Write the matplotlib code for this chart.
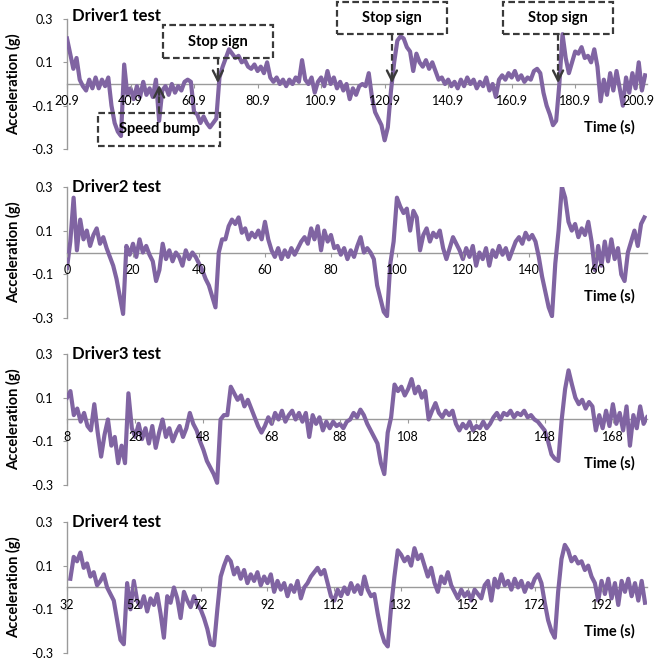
import numpy as np
import matplotlib.pyplot as plt
from matplotlib.patches import Rectangle

plt.rcParams['font.family'] = ['Lato', 'DejaVu Sans']

# acceleration (g), one reading per second
acc_driver1 = [
    0.21, 0.14, 0.07, 0.12, 0.02, -0.01, -0.03, 0.02, -0.02, 0.03,
    -0.02, 0.02, -0.01, 0.03, -0.10, -0.18, -0.22, -0.24, 0.09, -0.05,
    -0.02, -0.07, -0.01, -0.06, 0.01, -0.05, -0.02, -0.06, 0.02, -0.17,
    -0.03, -0.01, -0.05, 0.00, -0.04, -0.01, -0.03, 0.01, 0.02, 0.01,
    -0.13, -0.14, -0.18, -0.15, -0.18, -0.20, -0.18, -0.16, 0.03, 0.08,
    0.12, 0.16, 0.14, 0.12, 0.13, 0.10, 0.11, 0.08, 0.07, 0.09,
    0.06, 0.08, 0.05, 0.10, 0.03, 0.01, 0.03, 0.00, 0.02, -0.01,
    0.02, 0.00, 0.03, 0.01, 0.11, 0.02, 0.00, 0.03, -0.04, 0.01,
    0.03, -0.01, 0.06, 0.00, 0.03, -0.02, 0.01, -0.03, 0.00, -0.07,
    -0.02, -0.05, -0.01, 0.00, -0.01, 0.05, -0.06, -0.13, -0.16, -0.19,
    -0.26, -0.20, -0.03, 0.10, 0.20, 0.22, 0.21, 0.17, 0.15, 0.06,
    0.14, 0.10, 0.08, 0.11, 0.07, 0.10, 0.06, 0.02, 0.03, 0.00,
    0.02, -0.01, 0.01, -0.02, 0.02, -0.01, 0.03, 0.00, 0.02, -0.02,
    0.01, -0.01, 0.03, -0.03, 0.00, -0.06, 0.02, 0.04, 0.02, 0.05,
    0.03, 0.06, 0.02, 0.04, 0.01, 0.03, 0.02, 0.06, 0.07, 0.05,
    -0.04, -0.10, -0.14, -0.19, -0.17, 0.00, 0.23, 0.12, 0.05, 0.10,
    0.15, 0.14, 0.17, 0.12, 0.13, 0.10, 0.16, 0.08, -0.08, 0.02,
    -0.05, 0.05, -0.03, 0.06, -0.02, -0.10, 0.03, -0.04, 0.05, -0.02,
    0.10, -0.03, 0.04,
]
acc_driver2 = [
    -0.07, 0.05, 0.25, 0.01, 0.15, 0.06, 0.10, 0.03, 0.08, 0.11,
    0.04, 0.07, 0.02, -0.02, -0.06, -0.12, -0.20, -0.28, 0.03, -0.01,
    0.04, -0.02, 0.06, 0.00, 0.03, -0.01, -0.04, -0.13, -0.08, 0.04,
    -0.03, 0.01, -0.04, 0.00, -0.02, -0.06, 0.01, -0.03, 0.00, -0.02,
    -0.05, -0.08, -0.12, -0.15, -0.20, -0.25, 0.00, 0.06, 0.06, 0.12,
    0.15, 0.13, 0.16, 0.09, 0.11, 0.06, 0.09, 0.07, 0.10, 0.06,
    0.14, 0.06, 0.01, -0.02, 0.02, -0.03, 0.01, -0.02, 0.02, -0.01,
    0.02, 0.05, 0.07, 0.04, 0.11, 0.06, 0.12, 0.01, 0.10, 0.05,
    0.08, 0.02, 0.03, -0.01, 0.02, -0.03, 0.01, -0.02, 0.03, 0.07,
    0.00, 0.02, 0.00, -0.03, -0.15, -0.21, -0.27, -0.29, -0.05, 0.05,
    0.25, 0.21, 0.18, 0.20, 0.10, 0.19, 0.16, 0.01, 0.08, 0.11,
    0.05, 0.09, 0.07, 0.10, 0.02, -0.03, 0.02, 0.07, 0.04, 0.01,
    -0.03, 0.02, -0.02, 0.03, -0.06, 0.00, -0.03, 0.02, -0.06, 0.01,
    -0.02, 0.03, -0.01, 0.02, -0.03, 0.01, 0.05, 0.07, 0.04, 0.09,
    0.06, 0.08, 0.05, -0.02, -0.11, -0.18, -0.25, -0.29, -0.05, 0.10,
    0.30, 0.25, 0.14, 0.10, 0.13, 0.07, 0.11, 0.08, 0.14, 0.05,
    -0.08, 0.03, -0.06, 0.05, -0.04, 0.06, -0.03, 0.02, -0.10, -0.13,
    0.00, 0.05, 0.10, 0.03, 0.13, 0.16,
]
acc_driver3 = [
    0.10, 0.13, 0.02, 0.05, -0.01, 0.03, -0.03, -0.05, 0.07, -0.06,
    -0.17, -0.07, 0.00, -0.12, -0.08, -0.20, -0.12, -0.20, 0.12, -0.04,
    -0.08, -0.02, -0.09, -0.04, -0.11, -0.03, -0.13, -0.06, 0.00, -0.08,
    -0.04, -0.10, -0.06, -0.03, -0.08, -0.04, 0.03, -0.02, -0.05, -0.10,
    -0.14, -0.19, -0.22, -0.25, -0.29, 0.00, 0.02, 0.02, 0.15, 0.12,
    0.09, 0.11, 0.06, 0.09, 0.05, 0.01, -0.03, -0.06, -0.03, 0.01,
    -0.02, 0.03, 0.00, 0.04, -0.01, 0.02, 0.04, 0.00, 0.03, -0.01,
    0.03, -0.08, 0.02, -0.02, 0.01, -0.05, -0.01, -0.04, -0.01, -0.03,
    -0.02, -0.04, -0.01, 0.00, 0.03, 0.01, 0.045, 0.02, -0.02, -0.05,
    -0.08, -0.11, -0.20, -0.25, -0.06, 0.01, 0.16, 0.13, 0.15, 0.11,
    0.14, 0.185, 0.12, 0.15, 0.10, 0.13, 0.00, 0.04, 0.075, 0.03,
    0.01, 0.04, 0.02, 0.04, -0.02, -0.05, -0.02, -0.04, -0.01, -0.05,
    -0.03, -0.04, -0.01, -0.04, -0.02, 0.01, 0.03, 0.00, 0.03, 0.02,
    0.04, 0.01, 0.03, 0.02, 0.04, 0.01, 0.02, 0.00, -0.01, -0.03,
    -0.05, -0.10, -0.16, -0.18, -0.19, 0.00, 0.14, 0.225, 0.16, 0.10,
    0.07, 0.09, 0.05, 0.08, 0.06, -0.05, 0.02, -0.04, 0.04, -0.03,
    0.07, -0.02, 0.03, -0.05, 0.06, -0.12, 0.02, -0.04, 0.06, -0.02,
    0.01,
]
acc_driver4 = [
    0.04, 0.14, 0.12, 0.16, 0.09, 0.11, 0.05, 0.07, 0.01, 0.03,
    0.06, 0.00, -0.03, -0.06, -0.15, -0.24, -0.26, 0.02, -0.10, 0.03,
    -0.06, -0.09, -0.04, -0.11, -0.05, -0.08, -0.03, -0.12, -0.23, -0.04,
    -0.07, 0.00, -0.05, -0.14, -0.02, -0.06, -0.09, -0.04, -0.08, -0.10,
    -0.14, -0.19, -0.26, -0.265, -0.10, 0.05, 0.10, 0.14, 0.12, 0.06,
    0.09, 0.04, 0.08, 0.02, 0.06, 0.03, 0.07, 0.01, 0.05, 0.02,
    0.06, -0.02, 0.03, -0.01, 0.02, -0.04, 0.01, -0.02, 0.03, -0.05,
    0.00, 0.02, 0.05, 0.07, 0.09, 0.06, 0.08, 0.02, -0.04, -0.06,
    -0.01, -0.04, 0.00, -0.03, 0.02, -0.02, 0.01, -0.03, 0.05, -0.01,
    -0.04, -0.03, -0.12, -0.20, -0.25, -0.27, -0.09, 0.05, 0.17, 0.15,
    0.12, 0.14, 0.10, 0.18, 0.13, 0.15, 0.10, 0.05, 0.09, 0.02,
    -0.02, 0.05, 0.02, 0.07, 0.01, -0.02, -0.05, -0.01, -0.04, -0.02,
    -0.06, -0.01, -0.03, -0.05, 0.01, 0.03, -0.06, 0.04, 0.00, 0.06,
    0.01, 0.03, -0.01, 0.04, 0.00, 0.03, -0.02, 0.02, 0.00, 0.04,
    0.06, 0.02, -0.07, -0.15, -0.20, -0.23, -0.02, 0.13, 0.195, 0.17,
    0.12, 0.14, 0.11, 0.12, 0.08, 0.10, 0.05, 0.02, -0.06, 0.03,
    -0.03, 0.04, -0.05, 0.02, -0.08, 0.03, -0.02, 0.04, -0.04, 0.02,
    -0.06, 0.03, -0.07,
]

start_times = [20.9, 0, 8, 33]
tick_starts = [20.9, 0, 8, 32]
x_ends = [203.5, 175.8, 178, 205.6]
titles = ['Driver1 test', 'Driver2 test', 'Driver3 test', 'Driver4 test']
series = [acc_driver1, acc_driver2, acc_driver3, acc_driver4]

# annotations on the first panel
event_labels = ['Speed bump', 'Stop sign', 'Stop sign', 'Stop sign']
event_times = [49.9, 68.4, 123.2, 175.5]

line_color = '#8064A2'
axis_gray = '#9a9a9a'
box_color = '#3a3a3a'
dash = (0, (3, 1.5))

fig = plt.figure(figsize=(6.55, 6.64), dpi=100)
axes_rects = [
    [0.1023, 0.7756, 0.8855, 0.1958],
    [0.1023, 0.5206, 0.8855, 0.1982],
    [0.1023, 0.2696, 0.8855, 0.1973],
    [0.1023, 0.0166, 0.8855, 0.1973],
]
title_y = [1.02, 1.0, 1.0, 1.0]

for i in range(4):
    ax = fig.add_axes(axes_rects[i])
    acc = np.array(series[i])
    t = start_times[i] + np.arange(len(acc))
    ax.plot(t, acc, color=line_color, lw=3.0, solid_joinstyle='round',
            zorder=2)

    ax.set_xlim(tick_starts[i], x_ends[i])
    ax.set_ylim(-0.3, 0.3)

    xt = tick_starts[i] + 20 * np.arange(9 if i else 10)
    ax.set_xticks(xt)
    if i == 0:
        ax.set_xticklabels(['%.1f' % v for v in xt])
    else:
        ax.set_xticklabels(['%d' % v for v in xt])
    ax.set_yticks([0.3, 0.1, -0.1, -0.3])
    ax.set_yticklabels(['0.3', '0.1', '-0.1', '-0.3'])

    for s in ['top', 'right']:
        ax.spines[s].set_visible(False)
    ax.spines['bottom'].set_position(('data', 0))
    for s in ['bottom', 'left']:
        ax.spines[s].set_color(axis_gray)
        ax.spines[s].set_linewidth(1)
        ax.spines[s].set_zorder(1)
    ax.tick_params(axis='x', direction='out', length=3, color=axis_gray,
                   pad=5, labelsize=9)
    ax.tick_params(axis='y', direction='out', length=3, color=axis_gray,
                   pad=7, labelsize=9)
    ax.xaxis.set_zorder(2.5)
    ax.patch.set_visible(False)

    ax.text(0.009, title_y[i], titles[i], transform=ax.transAxes,
            ha='left', va='center', fontsize=12, fontweight='bold')
    ax.text(0.979, -0.2, 'Time (s)', transform=ax.get_yaxis_transform(),
            ha='right', va='center', fontsize=10.5, fontweight='bold')

    pos = ax.get_position()
    fig.text(14 / 655, pos.y0 + pos.height / 2, 'Acceleration (g)',
             rotation=90, ha='center', va='center', fontsize=10.5,
             fontweight='bold')

    if i == 0:
        for label, te in zip(event_labels, event_times):
            if label == 'Speed bump':
                y0, y1, w = -0.286, -0.134, 38.5
            elif te < 100:
                y0, y1, w = 0.12, 0.272, 34.5
            else:
                y0, y1, w = 0.231, 0.378, 34.5
            ax.add_patch(Rectangle((te - w / 2, y0), w, y1 - y0,
                                   fill=False, ec=box_color, lw=1.6,
                                   ls=dash, clip_on=False, zorder=5))
            ax.text(te, (y0 + y1) / 2, label, ha='center', va='center',
                    fontsize=10.5, fontweight='bold', zorder=6)
            # dashed shaft, solid open head touching the zero line
            if label == 'Speed bump':
                ax.plot([te, te], [y1, -0.03], color=box_color, lw=1.6,
                        ls=dash, clip_on=False, zorder=5)
                tail, tip = -0.05, -0.004
            else:
                ax.plot([te, te], [y0, 0.03], color=box_color, lw=1.6,
                        ls=dash, clip_on=False, zorder=5)
                tail, tip = 0.05, 0.004
            ax.annotate('', xy=(te, tip), xytext=(te, tail),
                        arrowprops=dict(arrowstyle='->', color=box_color,
                                        lw=1.7, mutation_scale=18,
                                        shrinkA=0, shrinkB=0), zorder=5)

fig.savefig('out.png', dpi=100)
